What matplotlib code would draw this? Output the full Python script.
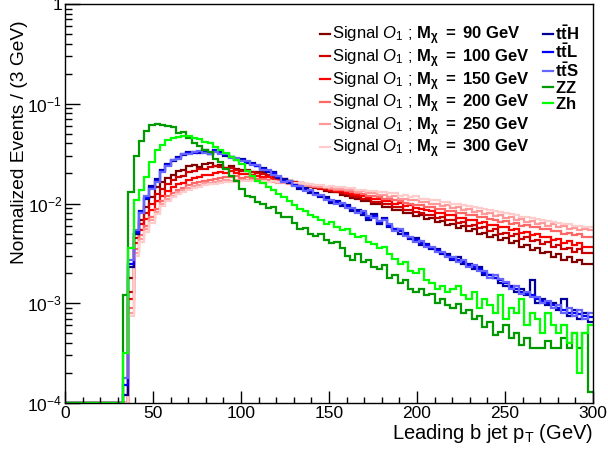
import numpy as np
import matplotlib
matplotlib.use("Agg")
from matplotlib import pyplot as plt
from matplotlib.lines import Line2D
from matplotlib.ticker import MultipleLocator, LogLocator, NullFormatter, FuncFormatter

plt.rcParams['font.family'] = ['Liberation Sans', 'DejaVu Sans']
plt.rcParams['mathtext.fontset'] = 'custom'
plt.rcParams['mathtext.rm'] = 'Liberation Sans'
plt.rcParams['mathtext.it'] = 'Liberation Sans:italic'
plt.rcParams['mathtext.bf'] = 'Liberation Sans:bold'

# bins of 3 GeV, 0-300; everything below 33 GeV is empty
edges = np.arange(0, 301, 3)
n_empty = 11

# normalized events per bin (units of 1e-3), bins from 33 GeV upward
sig90 = [0, 1.8, 5.0, 6.9, 9.3, 11.7, 14.6, 16.3, 18.0, 19.2,
         21.0, 21.8, 23.8, 24.5, 23.0, 24.8, 25.2, 23.6, 24.2, 22.6,
         23.8, 22.2, 21.8, 21.8, 20.6, 20.8, 20.6, 19.0, 18.8, 17.8,
         17.6, 17.0, 16.6, 16.0, 15.2, 15.2, 14.4, 14.2, 13.4, 13.0,
         12.9, 12.1, 12.0, 11.3, 11.2, 10.5, 10.6, 9.8, 9.9, 9.2,
         9.3, 8.6, 8.7, 8.0, 8.1, 7.5, 7.6, 7.0, 7.2, 6.6,
         6.7, 6.1, 6.3, 5.7, 5.9, 5.3, 5.5, 5.0, 5.1, 4.6,
         4.8, 4.3, 4.5, 4.0, 4.2, 3.7, 3.8, 3.4, 3.6, 3.2,
         3.3, 2.9, 3.1, 2.7, 2.9, 2.6, 2.7, 2.5, 2.5]
sig100 = [0, 1.3, 4.5, 6.2, 8.0, 10.0, 12.5, 14.0, 15.8, 17.4,
          18.6, 19.0, 20.8, 21.4, 22.0, 22.2, 23.2, 24.0, 23.0, 22.6,
          22.8, 21.8, 21.4, 21.0, 20.6, 20.0, 19.6, 19.2, 18.4, 18.0,
          17.4, 16.8, 16.6, 15.8, 15.6, 14.8, 14.6, 14.0, 13.8, 13.4,
          13.0, 12.6, 12.4, 11.8, 11.6, 11.2, 11.0, 10.4, 10.4, 9.8,
          9.8, 9.2, 9.3, 8.6, 8.7, 8.2, 8.1, 7.7, 7.7, 7.2,
          7.3, 6.8, 6.9, 6.4, 6.5, 6.0, 6.1, 5.7, 5.8, 5.3,
          5.5, 5.0, 5.1, 4.7, 4.9, 4.4, 4.6, 4.2, 4.3, 3.9,
          4.1, 3.7, 3.8, 3.5, 3.6, 3.3, 3.5, 3.2, 3.2]
sig150 = [0, 1.1, 4.0, 5.4, 7.0, 8.6, 10.5, 12.0, 13.4, 14.6,
          15.6, 16.2, 17.4, 18.0, 18.6, 19.2, 19.4, 20.2, 20.8, 20.4,
          21.0, 20.2, 19.6, 19.8, 19.2, 19.0, 18.4, 18.4, 17.6, 17.6,
          17.0, 16.8, 16.2, 16.0, 15.4, 15.2, 14.8, 14.4, 14.2, 13.8,
          13.4, 13.2, 12.8, 12.4, 12.2, 11.8, 11.6, 11.2, 11.0, 10.6,
          10.5, 10.0, 10.1, 9.4, 9.6, 9.0, 8.9, 8.6, 8.5, 8.0,
          8.1, 7.6, 7.7, 7.2, 7.2, 6.8, 6.9, 6.4, 6.5, 6.1,
          6.1, 5.8, 5.8, 5.4, 5.5, 5.1, 5.2, 4.8, 4.9, 4.6,
          4.6, 4.3, 4.4, 4.0, 4.2, 3.8, 4.0, 3.7, 3.7]
sig200 = [0, 0.9, 3.5, 4.8, 6.0, 7.4, 8.8, 10.5, 11.8, 12.8,
          13.8, 14.4, 15.4, 16.0, 16.4, 17.0, 17.4, 17.8, 18.0, 18.6,
          18.4, 18.8, 18.2, 18.4, 18.0, 17.8, 17.6, 17.4, 17.0, 16.8,
          16.6, 16.2, 16.0, 15.6, 15.4, 15.0, 14.8, 14.6, 14.4, 14.0,
          13.8, 13.6, 13.2, 13.0, 12.6, 12.4, 12.0, 11.8, 11.6, 11.2,
          11.0, 10.8, 10.5, 10.2, 10.0, 9.7, 9.6, 9.2, 9.2, 8.8,
          8.8, 8.4, 8.4, 8.0, 8.1, 7.6, 7.7, 7.3, 7.3, 7.0,
          6.9, 6.6, 6.7, 6.3, 6.4, 6.0, 6.1, 5.8, 5.8, 5.5,
          5.6, 5.3, 5.3, 5.0, 5.1, 4.8, 4.9, 4.6, 4.6]
sig250 = [0, 0.8, 3.2, 4.4, 5.5, 6.8, 8.2, 9.8, 11.0, 12.0,
          13.0, 13.6, 14.4, 15.0, 15.4, 16.0, 16.2, 16.6, 16.8, 17.2,
          17.0, 17.4, 17.4, 17.2, 17.4, 17.0, 17.0, 16.6, 16.6, 16.2,
          16.2, 15.8, 15.8, 15.4, 15.4, 15.0, 15.0, 14.6, 14.6, 14.4,
          14.0, 14.0, 13.6, 13.6, 13.0, 13.2, 12.6, 12.6, 12.2, 12.2,
          11.6, 11.8, 11.2, 11.2, 10.8, 10.8, 10.3, 10.3, 9.8, 10.0,
          9.4, 9.6, 9.0, 9.2, 8.6, 8.8, 8.2, 8.4, 7.9, 8.0,
          7.5, 7.7, 7.2, 7.3, 6.9, 7.0, 6.6, 6.7, 6.3, 6.4,
          6.0, 6.2, 5.8, 5.9, 5.6, 5.7, 5.4, 5.5, 5.4]
sig300 = [0, 0.75, 3.0, 4.1, 5.2, 6.4, 7.8, 9.4, 10.6, 11.5,
          12.4, 13.0, 13.8, 14.4, 14.8, 15.2, 15.6, 15.8, 16.2, 16.4,
          16.6, 16.6, 17.0, 16.8, 17.0, 16.8, 17.0, 16.6, 16.8, 16.4,
          16.4, 16.2, 16.0, 16.0, 15.6, 15.6, 15.2, 15.4, 14.8, 15.0,
          14.6, 14.6, 14.2, 14.2, 13.8, 13.8, 13.4, 13.4, 13.0, 13.0,
          12.6, 12.6, 12.0, 12.2, 11.6, 11.8, 11.2, 11.2, 10.8, 10.8,
          10.4, 10.4, 10.0, 9.9, 9.6, 9.4, 9.2, 9.0, 8.8, 8.6,
          8.4, 8.2, 8.0, 7.8, 7.6, 7.4, 7.3, 7.1, 7.0, 6.8,
          6.7, 6.5, 6.4, 6.2, 6.2, 6.0, 6.0, 5.8, 5.8]
ttH = [0.12, 2.3, 5.0, 8.5, 11.0, 15.0, 17.5, 21.5, 25, 26.5,
       29, 30.5, 33, 32.5, 32, 34, 31.5, 33.5, 32.5, 30,
       29.5, 27.5, 28, 25.5, 25.5, 23.5, 22.5, 20.5, 20.5, 18,
       17.5, 16, 15.5, 14, 14.2, 12.8, 12.8, 11.5, 11.5, 10.2,
       10.6, 9.5, 9.6, 8.5, 8.6, 7.6, 6.8, 7.8, 6.3, 7.2,
       5.8, 5.6, 5.0, 5.1, 4.4, 4.5, 3.8, 3.9, 3.5, 3.5,
       3.1, 3.1, 2.7, 2.9, 2.5, 2.5, 2.2, 2.3, 1.9, 1.9,
       1.8, 1.6, 1.5, 1.5, 1.3, 1.4, 1.2, 1.7, 1.0, 1.1,
       0.95, 1.0, 0.85, 1.1, 0.75, 0.85, 0.7, 0.8, 0.65]
ttL = [0.15, 2.5, 5.2, 8.2, 11.4, 14.4, 17, 21, 24.5, 27,
       28.5, 31, 32, 32, 33, 33, 31, 34, 32, 31,
       29, 28, 27, 26, 25, 24, 22, 21, 20, 18.5,
       17, 16.5, 15.5, 14.5, 13.8, 13.2, 12.5, 11.8, 11.2, 10.6,
       10.3, 9.8, 9.4, 8.8, 8.3, 8.0, 7.2, 7.5, 6.5, 7.0,
       6.0, 5.5, 5.3, 4.9, 4.5, 4.3, 4.0, 3.8, 3.6, 3.4,
       3.2, 3.0, 2.8, 2.7, 2.6, 2.4, 2.3, 2.2, 2.0, 1.9,
       1.8, 1.7, 1.6, 1.45, 1.4, 1.3, 1.25, 1.2, 1.1, 1.05,
       1.0, 0.95, 0.9, 0.85, 0.8, 0.8, 0.78, 0.75, 0.72]
ttS = [0.18, 2.7, 5.4, 8.0, 11.8, 14.0, 16.5, 20.5, 24, 27.5,
       28, 31.5, 31.5, 32.5, 33.5, 32, 31, 33, 31.5, 31.5,
       28.5, 28.5, 26.5, 26.5, 24.5, 24.5, 21.5, 21.5, 19.5, 19,
       16.5, 17, 15, 15, 13.4, 13.6, 12.2, 12.2, 10.9, 10.9,
       10.0, 10.1, 9.1, 9.1, 8.0, 8.4, 7.5, 7.2, 6.7, 6.8,
       6.2, 5.3, 5.5, 4.7, 4.6, 4.1, 4.2, 3.7, 3.7, 3.3,
       3.3, 2.9, 2.9, 2.6, 2.7, 2.3, 2.4, 2.1, 2.1, 1.8,
       1.9, 1.75, 1.65, 1.4, 1.5, 1.25, 1.3, 1.15, 1.15, 1.0,
       1.05, 0.9, 0.95, 0.8, 0.9, 0.75, 0.85, 0.7, 0.8]
zz = [1.2, 13, 30, 42, 53, 61, 63, 61, 60, 58,
      51, 52, 45, 40, 38, 34, 33, 28, 26, 22,
      19, 17, 14, 12, 11.5, 10.3, 9.8, 9.0, 9.3, 8.0,
      7.3, 7.4, 6.4, 5.5, 5.7, 5.0, 4.7, 4.9, 4.3, 4.0,
      4.1, 3.6, 3.0, 2.7, 3.1, 2.6, 2.7, 2.3, 2.2, 2.4,
      1.8, 1.9, 1.6, 1.7, 1.4, 1.3, 1.4, 1.2, 1.25, 1.0,
      1.1, 0.95, 0.9, 0.98, 0.8, 0.85, 0.7, 0.75, 0.58, 0.65,
      0.48, 0.52, 0.6, 0.45, 0.5, 0.38, 0.45, 0.36, 0.36, 0.36,
      0.42, 0.36, 0.36, 0.45, 0.36, 0.5, 0.36, 0.5, 0.13]
zh = [0.32, 3.6, 10.8, 13.7, 18.6, 26, 34, 39, 43, 45,
      46, 48, 47, 45, 44, 41, 40, 37, 34, 32,
      29, 27, 25, 21, 19, 17, 16, 14.8, 13.5, 12.4,
      11.5, 10.7, 9.6, 8.8, 8.4, 7.6, 7.3, 6.8, 6.2, 6.5,
      5.8, 5.4, 5.5, 4.9, 4.6, 4.7, 4.1, 3.9, 3.6, 3.7,
      3.1, 2.8, 2.5, 2.6, 2.1, 2.0, 2.2, 1.7, 1.6, 1.4,
      1.5, 1.3, 1.4, 1.5, 1.2, 1.1, 1.3, 0.9, 1.1, 0.95,
      0.8, 1.2, 0.7, 0.9, 0.8, 1.1, 0.6, 0.8, 0.7, 0.5,
      0.8, 0.6, 0.5, 0.6, 0.4, 0.5, 0.2, 0.5, 0.6]

masses = [90, 100, 150, 200, 250, 300]
signals = [sig90, sig100, sig150, sig200, sig250, sig300]
sig_colors = ['#800000', '#cc0000', '#ff0000', '#ff6666', '#ff9999', '#ffcccc']
bkg_names = [r'$\mathbf{t\bar{t}H}$', r'$\mathbf{t\bar{t}L}$', r'$\mathbf{t\bar{t}S}$',
             r'$\mathbf{ZZ}$', r'$\mathbf{Zh}$']
backgrounds = [ttH, ttL, ttS, zz, zh]
bkg_colors = ['#000099', '#0000ff', '#6666ff', '#009900', '#00ff00']

ymin, ymax = 1e-4, 1.0

fig = plt.figure(figsize=(6.08, 4.54), dpi=100)
ax = fig.add_axes([65/608, 1-403/454, 528/608, 399/454])


def full(vals):
    h = np.concatenate([np.zeros(n_empty), np.array(vals) * 1e-3])
    # empty bins drawn on the bottom of the frame, like ROOT does
    return np.clip(h, ymin, None)


handles = []
for m, vals, c in zip(masses, signals, sig_colors):
    h = ax.stairs(full(vals), edges, color=c, lw=1.6, baseline=None,
                  label=r'Signal $O_1$ ; $\mathbf{M_{\chi}\ =\ %d\ GeV}$' % m)
    handles.append(h)
for name, vals, c in zip(bkg_names, backgrounds, bkg_colors):
    h = ax.stairs(full(vals), edges, color=c, lw=1.6, baseline=None, label=name)
    handles.append(h)

ax.set_yscale('log')
ax.set_xlim(0, 300)
ax.set_ylim(ymin, ymax)

ax.xaxis.set_major_locator(MultipleLocator(50))
ax.xaxis.set_minor_locator(MultipleLocator(10))
ax.yaxis.set_major_locator(LogLocator(base=10, numticks=10))
ax.yaxis.set_minor_locator(LogLocator(base=10, subs=np.arange(2, 10), numticks=20))
ax.yaxis.set_minor_formatter(NullFormatter())
ax.yaxis.set_major_formatter(FuncFormatter(
    lambda v, p: '1' if abs(v - 1) < 1e-9 else r'$10^{%d}$' % round(np.log10(v))))

ax.tick_params(which='both', direction='in', top=False, right=False, labelsize=12.5, width=1)
ax.tick_params(axis='x', which='major', length=9, pad=2)
ax.tick_params(axis='x', which='minor', length=4.5)
ax.tick_params(axis='y', which='major', length=11, pad=2)
ax.tick_params(axis='y', which='minor', length=5)
for s in ax.spines.values():
    s.set_linewidth(1)

ax.set_xlabel(r'Leading b jet p$_{\mathrm{T}}$ (GeV)', fontsize=14.5, loc='right', labelpad=1)
ax.set_ylabel('Normalized Events / (3 GeV)', fontsize=13.8, loc='top')
ax.yaxis.set_label_coords(-0.07, 0.96)

proxies = [Line2D([], [], color=h.get_edgecolor(), lw=1.6) for h in handles]
labels = [h.get_label() for h in handles]
ax.legend(proxies, labels, ncol=2, frameon=False, fontsize=12,
          loc='upper left', bbox_to_anchor=(320/608, 1-24/454), bbox_transform=fig.transFigure,
          handlelength=0.6, handletextpad=0.15, labelspacing=0.0, columnspacing=0.75,
          borderaxespad=0, borderpad=0)

fig.savefig('out.png', dpi=100)
